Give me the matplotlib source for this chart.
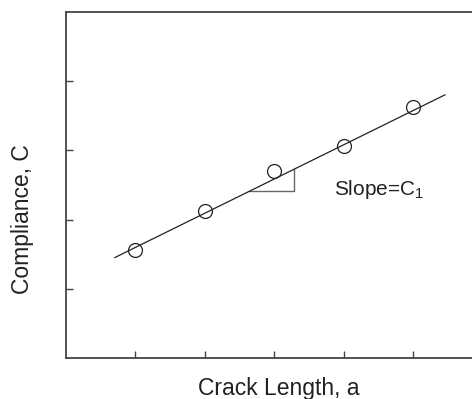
import numpy as np
import matplotlib
matplotlib.use("Agg")
from matplotlib import pyplot as plt

plt.rcParams['font.family'] = ['Liberation Sans', 'DejaVu Sans']
plt.rcParams['mathtext.fontset'] = 'custom'
plt.rcParams['mathtext.rm'] = 'Liberation Sans'

# measured compliance vs crack length
crack_length = [1, 2, 3, 4, 5]
compliance = [1.56, 2.12, 2.70, 3.06, 3.63]

# fitted line
fit_slope = 0.495
fit_intercept = 1.10
fit_range = [0.71, 5.46]

# slope triangle corners (x)
tri_x = [2.64, 3.29]

x_ticks = [1, 2, 3, 4, 5]
y_ticks = [1, 2, 3, 4]

W, H = 472, 399
fig = plt.figure(figsize=(W / 100, H / 100), dpi=100)
left, right, top, bottom = 65.5, 472, 12, 358
ax = fig.add_axes([left / W, 1 - bottom / H, (right - left) / W, (bottom - top) / H])

spine_col = '#444444'

# fit line
fx = np.array(fit_range)
ax.plot(fx, fit_intercept + fit_slope * fx, color='#222222', lw=0.9, zorder=2)

# slope triangle
ty = [fit_intercept + fit_slope * t for t in tri_x]
ax.plot([tri_x[0], tri_x[1], tri_x[1]], [ty[0], ty[0], ty[1]], color='#666666', lw=1.0, zorder=1)

# data points
ax.plot(crack_length, compliance, 'o', mfc='none', mec='#222222', ms=10, mew=0.9, zorder=3)

ax.text(3.86, 2.44, r'Slope=C$_\mathregular{1}$', fontsize=15, va='center', ha='left', color='#222222')

ax.set_xlim(0, (right - left) / 69.5)
ax.set_ylim(0, 5)
ax.set_xticks(x_ticks)
ax.set_yticks(y_ticks)
ax.set_xticklabels([])
ax.set_yticklabels([])
ax.tick_params(direction='in', length=5, width=1, color=spine_col)

ax.spines['right'].set_visible(False)
for s in ['left', 'top', 'bottom']:
    ax.spines[s].set_color(spine_col)
    ax.spines[s].set_linewidth(1.3)

ax.set_xlabel('Crack Length, a', fontsize=16.5, color='#222222')
ax.set_ylabel('Compliance, C', fontsize=16.5, color='#222222')
ax.xaxis.set_label_coords((278.5 - left) / (right - left), -(377 - bottom) / (bottom - top), transform=ax.transAxes)
ax.yaxis.set_label_coords(-(left - 34) / (right - left), (bottom - 219) / (bottom - top), transform=ax.transAxes)

fig.savefig('out.png', dpi=100)
